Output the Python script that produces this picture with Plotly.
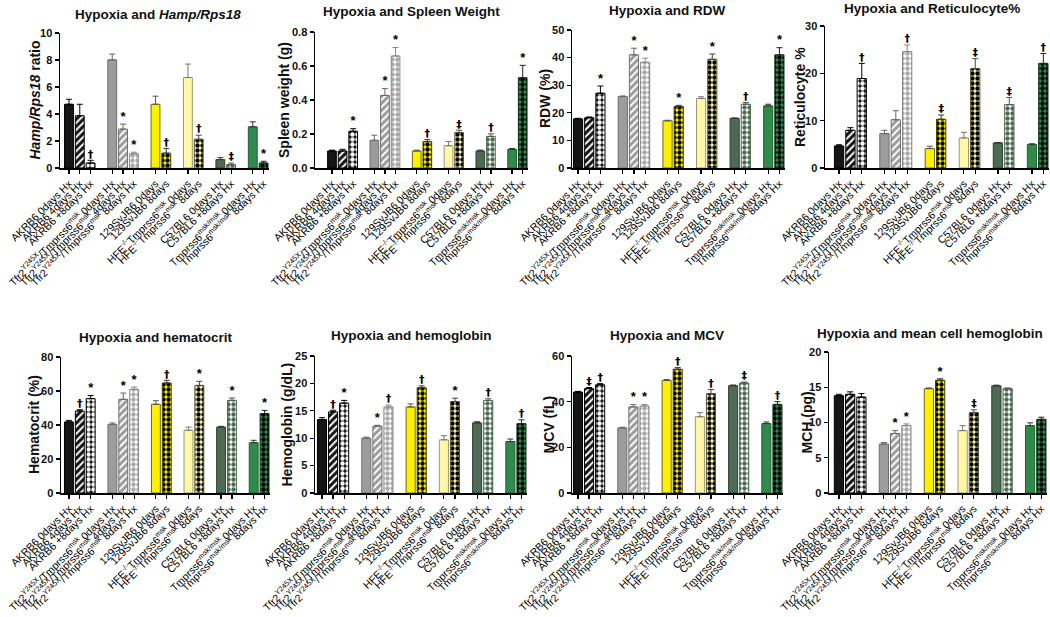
import plotly.graph_objects as go

W, H = 1050, 617

# ---------------- data ----------------
labels = [
    "AKRB6 0days Hx", "AKRB6 4days Hx", "AKRB6 +8days Hx",
    "Tfr2<sup>Y245X</sup>/Tmprss6<sup>msk</sup> 0days Hx",
    "Tfr2<sup>Y245X</sup>/Tmprss6<sup>msk</sup> 4days Hx",
    "Tfr2<sup>Y245X</sup>/Tmprss6<sup>msk</sup> 8days Hx",
    "129SvJB6 0days", "129SvJB6 8days",
    "HFE<sup>-/-</sup>Tmprss6<sup>msk</sup> 0days", "HFE<sup>-/-</sup>Tmprss6<sup>msk</sup> 8days",
    "C57BL6 0days Hx", "C57BL6 +8days Hx",
    "Tmprss6<sup>msk/msk</sup> 0days Hx", "Tmprss6<sup>msk/msk</sup> 8days Hx",
]
positions = [0, 1, 2, 4, 5, 6, 8, 9, 11, 12, 14, 15, 17, 18]

hamp_mean = [4.72, 3.87, 0.37, 8.01, 2.88, 1.05, 4.72, 1.10, 6.70, 2.13, 0.62, 0.25, 3.05, 0.37]
hamp_err = [0.37, 0.85, 0.20, 0.43, 0.37, 0.12, 0.60, 0.35, 1.00, 0.30, 0.15, 0.12, 0.37, 0.13]
hamp_sig = ["", "", "†", "", "*", "*", "", "†", "", "†", "", "‡", "", "*"]

spleen_mean = [0.100, 0.100, 0.216, 0.163, 0.427, 0.659, 0.100, 0.155, 0.131, 0.208, 0.100, 0.186, 0.110, 0.531]
spleen_err = [0.005, 0.010, 0.015, 0.030, 0.040, 0.050, 0.005, 0.012, 0.025, 0.014, 0.005, 0.015, 0.005, 0.073]
spleen_sig = ["", "", "*", "", "*", "*", "", "†", "", "‡", "", "†", "", "*"]

rdw_mean = [17.8, 18.2, 27.1, 25.9, 41.0, 38.3, 17.1, 22.3, 25.2, 39.4, 18.0, 23.1, 22.5, 41.0]
rdw_err = [0.2, 0.3, 2.6, 0.2, 2.4, 1.5, 0.2, 0.4, 0.6, 1.9, 0.1, 0.6, 0.6, 2.6]
rdw_sig = ["", "", "*", "", "*", "*", "", "*", "", "*", "", "†", "", "*"]

retic_mean = [4.66, 7.97, 18.9, 7.27, 10.2, 24.6, 4.1, 10.3, 6.35, 21.0, 5.3, 13.4, 5.0, 22.1]
retic_err = [0.25, 0.55, 3.2, 0.70, 1.9, 1.4, 0.5, 0.9, 1.2, 2.1, 0.1, 1.5, 0.1, 2.1]
retic_sig = ["", "", "†", "", "", "†", "", "‡", "", "‡", "", "‡", "", "†"]

hct_mean = [41.8, 48.2, 55.5, 40.4, 55.1, 61.0, 52.2, 64.7, 36.9, 63.3, 38.8, 54.5, 29.6, 46.7]
hct_err = [0.9, 0.8, 1.8, 0.8, 3.7, 1.3, 2.1, 1.6, 1.9, 2.4, 0.4, 1.4, 1.4, 1.9]
hct_sig = ["", "†", "*", "", "*", "*", "", "†", "", "*", "", "*", "", "*"]

hgb_mean = [13.4, 14.8, 16.4, 10.0, 12.2, 15.7, 15.7, 19.2, 9.7, 16.7, 12.8, 16.9, 9.4, 12.65]
hgb_err = [0.35, 0.30, 0.50, 0.20, 0.15, 0.35, 0.55, 0.35, 0.75, 0.60, 0.20, 0.30, 0.45, 0.70]
hgb_sig = ["", "†", "*", "", "*", "†", "", "†", "", "*", "", "†", "", "†"]

mcv_mean = [44.2, 45.7, 47.4, 28.5, 37.7, 38.1, 49.3, 54.2, 33.4, 43.5, 47.0, 48.2, 30.4, 38.8]
mcv_err = [0.3, 0.5, 0.5, 0.3, 1.0, 0.7, 0.4, 0.7, 1.8, 1.8, 0.3, 0.4, 0.7, 1.2]
mcv_sig = ["", "‡", "†", "", "*", "*", "", "†", "", "†", "", "‡", "", "†"]

mch_mean = [13.8, 14.0, 13.6, 6.95, 8.45, 9.55, 14.8, 16.0, 8.85, 11.4, 15.2, 14.8, 9.55, 10.45]
mch_err = [0.2, 0.35, 0.5, 0.2, 0.4, 0.25, 0.1, 0.2, 0.7, 0.4, 0.1, 0.1, 0.4, 0.3]
mch_sig = ["", "", "", "", "*", "*", "", "*", "", "‡", "", "", "", ""]

# ---------------- styles ----------------
base_colors = ["#151515", "#151515", "#151515",
               "#9c9c9c", "#9c9c9c", "#ffffff",
               "#fff000", "#fff000",
               "#fff8a8", "#fff8a8",
               "#4d6a52", "#ffffff",
               "#2f8a4c", "#2f8a4c"]
fg_colors = ["#151515", "#ffffff", "#ffffff",
             "#9c9c9c", "#ffffff", "#a8a8a8",
             "#fff000", "#000000",
             "#fff8a8", "#000000",
             "#4d6a52", "#4d6a52",
             "#2f8a4c", "#000000"]
shapes = ["", "/", ".", "", "/", ".", "", ".", "", ".", "", ".", "", "."]
line_colors = ["#000000", "#000000", "#000000",
               "#6f6f6f", "#6f6f6f", "#8a8a8a",
               "#6b6b00", "#444400",
               "#9a9a70", "#555533",
               "#2f3f32", "#4d6a52",
               "#1f5f33", "#113311"]
err_colors = ["#000000", "#000000", "#000000",
              "#666666", "#666666", "#888888",
              "#555555", "#333333",
              "#777777", "#444444",
              "#333333", "#555555",
              "#333333", "#222222"]

FONT = "Liberation Sans, Arial, sans-serif"
SYMFONT = "DejaVu Sans, Liberation Sans, sans-serif"

panels = [
    dict(mean=hamp_mean, err=hamp_err, sig=hamp_sig, ymax=10, dtick=2, fmt="d",
         ytitle="<i>Hamp/Rps18</i> ratio", title="Hypoxia and <i>Hamp/Rps18</i>",
         xpx=(60, 269), xr=-0.83, ypx=(33, 168), tpos=(158, 14), ytx=35),
    dict(mean=spleen_mean, err=spleen_err, sig=spleen_sig, ymax=0.8, dtick=0.2, fmt=".1f",
         ytitle="Spleen weight (g)", title="Hypoxia and Spleen Weight",
         xpx=(315, 528), xr=-1.6, ypx=(32, 168), tpos=(411, 12), ytx=284),
    dict(mean=rdw_mean, err=rdw_err, sig=rdw_sig, ymax=50, dtick=10, fmt="d",
         ytitle="RDW (%)", title="Hypoxia and RDW",
         xpx=(572, 785), xr=-0.54, ypx=(30, 168), tpos=(667, 11), ytx=545),
    dict(mean=retic_mean, err=retic_err, sig=retic_sig, ymax=30, dtick=10, fmt="d",
         ytitle="Reticulocyte %", title="Hypoxia and Reticulocyte%",
         xpx=(825, 1049), xr=-1.24, ypx=(26, 168), tpos=(932, 8), ytx=800),
    dict(mean=hct_mean, err=hct_err, sig=hct_sig, ymax=80, dtick=20, fmt="d",
         ytitle="Hematocrit (%)", title="Hypoxia and hematocrit",
         xpx=(61, 270), xr=-0.73, ypx=(357, 493), tpos=(156, 337), ytx=34),
    dict(mean=hgb_mean, err=hgb_err, sig=hgb_sig, ymax=25, dtick=5, fmt="d",
         ytitle="Hemoglobin (g/dL)", title="Hypoxia and hemoglobin",
         xpx=(315, 527), xr=-0.63, ypx=(356, 493), tpos=(411, 335), ytx=286),
    dict(mean=mcv_mean, err=mcv_err, sig=mcv_sig, ymax=60, dtick=20, fmt="d",
         ytitle="MCV (fL)", title="Hypoxia and MCV",
         xpx=(572, 783), xr=-0.54, ypx=(356, 493), tpos=(667, 335), ytx=548),
    dict(mean=mch_mean, err=mch_err, sig=mch_sig, ymax=20, dtick=5, fmt="d",
         ytitle="MCH (pg)", title="Hypoxia and mean cell hemoglobin",
         xpx=(829, 1047), xr=-0.88, ypx=(352, 493), tpos=(930, 333), ytx=806),
]

fig = go.Figure()
annotations = []
layout_axes = {}


def fx(px):
    return px / W


def fy(py):
    return 1 - py / H


for i, p in enumerate(panels, start=1):
    xa = "x" if i == 1 else f"x{i}"
    ya = "y" if i == 1 else f"y{i}"
    for k in range(len(positions)):
        if shapes[k]:
            marker = dict(
                color=base_colors[k],
                line=dict(color=line_colors[k], width=1),
                pattern=dict(shape=shapes[k], bgcolor=base_colors[k], fgcolor=fg_colors[k],
                             fgopacity=1, size=5,
                             solidity=0.6 if shapes[k] == "." else 0.4,
                             fillmode="replace"),
            )
        else:
            marker = dict(color=base_colors[k], line=dict(color=line_colors[k], width=1))
        fig.add_trace(go.Bar(
            x=[positions[k]], y=[p["mean"][k]], width=0.82,
            xaxis=xa, yaxis=ya, marker=marker,
            error_y=dict(type="data", symmetric=False, array=[p["err"][k]],
                         arrayminus=[0], color=err_colors[k], thickness=1, width=3),
            hoverinfo="skip",
        ))
    tops = [m + e for m, e in zip(p["mean"], p["err"])]
    fams = [FONT if s == "*" else SYMFONT for s in p["sig"]]
    sizes = [13 if s == "*" else 11 for s in p["sig"]]
    fig.add_trace(go.Scatter(
        x=positions, y=tops, text=p["sig"], mode="text",
        textposition="top center",
        textfont=dict(family=fams, size=sizes, color="#000000", weight="bold"),
        xaxis=xa, yaxis=ya, hoverinfo="skip",
    ))
    xkey = "xaxis" if i == 1 else f"xaxis{i}"
    ykey = "yaxis" if i == 1 else f"yaxis{i}"
    layout_axes[xkey] = dict(
        domain=[fx(p["xpx"][0]), fx(p["xpx"][1])],
        range=[p["xr"], 18.5], anchor=ya,
        showline=True, linecolor="#000000", linewidth=1.5,
        showgrid=False, zeroline=False,
        ticks="outside", ticklen=4, tickwidth=1.2, tickcolor="#000000",
        tickmode="array", tickvals=positions, ticktext=labels,
        tickangle=-45, tickfont=dict(family=FONT, size=10.5, color="#000000"),
        ticklabeloverflow="allow",
        automargin=False, fixedrange=True,
    )
    layout_axes[ykey] = dict(
        domain=[fy(p["ypx"][1]), fy(p["ypx"][0])],
        range=[0, p["ymax"]], anchor=xa, dtick=p["dtick"], tick0=0,
        tickformat=p["fmt"],
        showline=True, linecolor="#000000", linewidth=1.5,
        showgrid=False, zeroline=False,
        ticks="outside", ticklen=4, tickwidth=1.2, tickcolor="#000000",
        tickfont=dict(family=FONT, size=11, color="#111111", weight="bold"),
        ticklabeloverflow="allow",
        automargin=False, fixedrange=True,
    )
    annotations.append(dict(
        text=p["title"], x=fx(p["tpos"][0]), y=fy(p["tpos"][1]),
        xref="paper", yref="paper", xanchor="center", yanchor="middle",
        showarrow=False, font=dict(family=FONT, size=13.5, color="#111111", weight="bold"),
    ))
    annotations.append(dict(
        text=p["ytitle"], x=fx(p["ytx"]), y=fy((p["ypx"][0] + p["ypx"][1]) / 2),
        xref="paper", yref="paper", xanchor="center", yanchor="middle",
        textangle=-90, showarrow=False,
        font=dict(family=FONT, size=14, color="#111111", weight="bold"),
    ))

fig.update_layout(
    width=W, height=H,
    margin=dict(l=0, r=0, t=0, b=0),
    paper_bgcolor="white", plot_bgcolor="white",
    showlegend=False, bargap=0, barmode="overlay",
    annotations=annotations,
    **layout_axes,
)

fig.write_html("out.html", config={"displayModeBar": False, "staticPlot": True},
               post_script="document.body.style.margin='0px';")
